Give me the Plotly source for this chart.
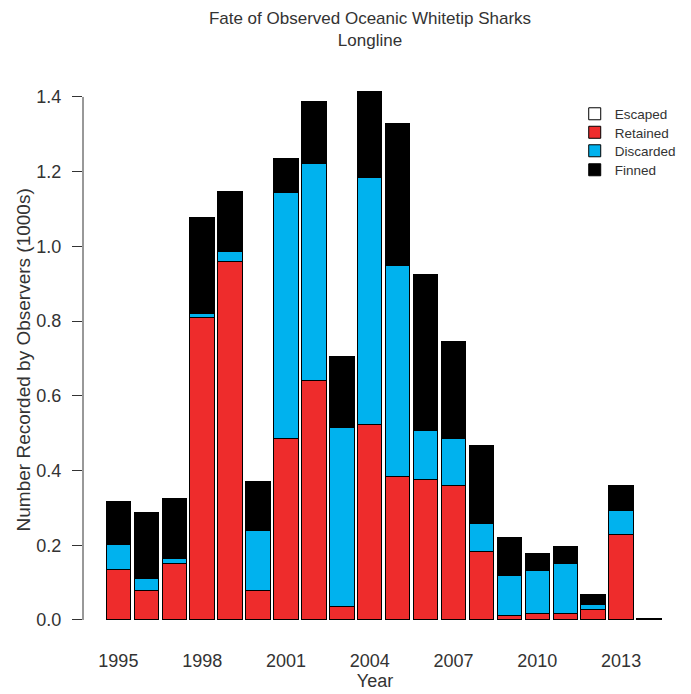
import plotly.graph_objects as go

years = list(range(1995, 2015))
escaped = [0] * 20
retained = [0.134, 0.080, 0.150, 0.810, 0.960, 0.080, 0.485, 0.641, 0.036, 0.524,
            0.384, 0.375, 0.359, 0.183, 0.013, 0.018, 0.018, 0.027, 0.230, 0.0]
discarded_top = [0.203, 0.111, 0.164, 0.821, 0.987, 0.240, 1.145, 1.221, 0.515, 1.184,
                 0.950, 0.507, 0.485, 0.257, 0.119, 0.132, 0.152, 0.042, 0.294, 0.0]
total_top = [0.317, 0.288, 0.326, 1.078, 1.148, 0.372, 1.235, 1.389, 0.705, 1.414,
             1.328, 0.925, 0.745, 0.467, 0.221, 0.177, 0.196, 0.069, 0.359, 0.004]
discarded = [round(d - r, 3) for d, r in zip(discarded_top, retained)]
finned = [round(t - d, 3) for t, d in zip(total_top, discarded_top)]

year_ticks = [1995, 1998, 2001, 2004, 2007, 2010, 2013]
y_ticks = [0.0, 0.2, 0.4, 0.6, 0.8, 1.0, 1.2, 1.4]

series = [
    ("Escaped", escaped, "white"),
    ("Retained", retained, "#EE2C2C"),
    ("Discarded", discarded, "#00B2EE"),
    ("Finned", finned, "black"),
]

txt = "#333333"
font_family = "Liberation Sans, Arial, sans-serif"

# figure is drawn at an 8px offset (page body margin)
W, H = 683, 686
ML, MR, MT, MB = 75, 10, 70, 72
plot_h = H - MT - MB
plot_w = W - ML - MR

legend_centers = [106, 124.5, 143, 162]  # pixel centers of legend items
legend_names = ["legend", "legend2", "legend3", "legend4"]

fig = go.Figure()
for (name, vals, col), lg in zip(series, legend_names):
    fig.add_trace(go.Bar(
        x=years,
        y=vals if name == "Escaped" else [v if v > 0 else None for v in vals],
        name=name,
        width=0.875,
        legend=lg,
        showlegend=True,
        marker=dict(color=col, line=dict(color="black", width=1)),
    ))

legend_layout = {}
for lg, cy in zip(legend_names, legend_centers):
    legend_layout[lg] = dict(
        x=0.842, y=1 - (cy - MT) / plot_h, xanchor="left", yanchor="middle",
        bgcolor="rgba(0,0,0,0)", font=dict(size=13.5, color=txt),
        borderwidth=0, visible=True,
    )

fig.update_layout(
    width=W, height=H,
    barmode="stack",
    showlegend=True,
    plot_bgcolor="white", paper_bgcolor="white",
    margin=dict(l=ML, r=MR, t=MT, b=MB),
    font=dict(family=font_family, size=18, color=txt),
    title=dict(
        text="Fate of Observed Oceanic Whitetip Sharks<br>Longline",
        x=0.530, xanchor="center", xref="container",
        y=0.977, yanchor="top", yref="container",
        pad=dict(t=0, b=0),
        font=dict(size=17, color=txt, family=font_family),
    ),
    xaxis=dict(
        range=[1993.734, 2014.643],
        tickvals=year_ticks,
        ticktext=[str(y) for y in year_ticks],
        ticks="outside", ticklen=22, tickcolor="rgba(0,0,0,0)",
        showline=False, showgrid=False, zeroline=False,
        automargin=False,
        tickfont=dict(size=18, color=txt),
        title=dict(text="Year", standoff=4, font=dict(size=18, color=txt)),
    ),
    yaxis=dict(
        range=[-0.0054, 1.4507],
        tickvals=y_ticks,
        ticktext=["%.1f" % v for v in y_ticks],
        ticks="outside", ticklen=10, tickcolor="#333333", tickwidth=1,
        ticklabelstandoff=7,
        showline=False, showgrid=False, zeroline=False,
        automargin=False,
        tickfont=dict(size=18, color=txt),
    ),
    **legend_layout,
)

fig.add_annotation(
    text="Number Recorded by Observers (1000s)",
    textangle=-90, showarrow=False,
    xref="paper", yref="paper",
    x=(14 - ML) / plot_w, y=1 - (352 - MT) / plot_h,
    xanchor="center", yanchor="middle",
    font=dict(size=19, color=txt, family=font_family),
)

fig.add_shape(type="line", xref="paper", yref="y", x0=0, x1=0,
              y0=y_ticks[0], y1=y_ticks[-1],
              line=dict(color="#333333", width=1))

fig.write_html("out.html")
